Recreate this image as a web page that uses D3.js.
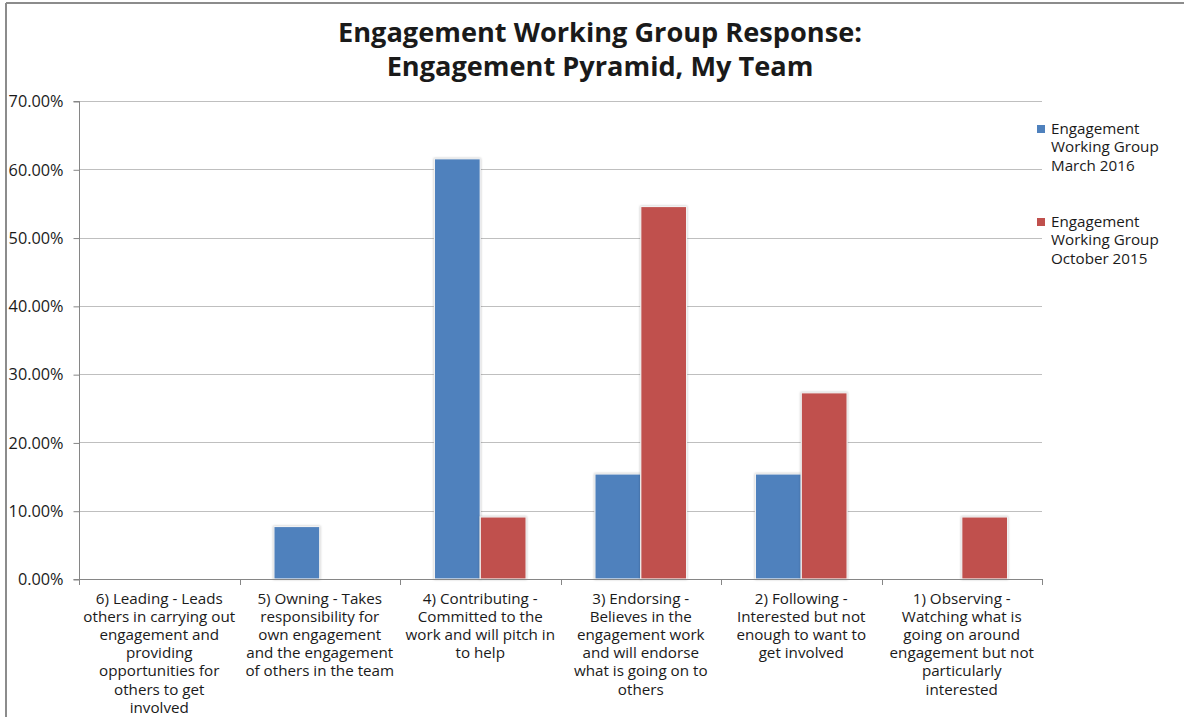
<!DOCTYPE html>
<html><head><meta charset="utf-8">
<script src="https://cdn.jsdelivr.net/npm/d3@7"></script>
<style>
html,body{margin:0;padding:0;background:#fff;}
svg{display:block;}
text{font-family:"Open Sans",Lato,sans-serif;fill:#1a1a1a;}
</style></head>
<body>
<svg id="chart" width="1184" height="717"></svg>
<script>
const titleLines = ["Engagement Working Group Response:", "Engagement Pyramid, My Team"];
const categories = [
  "6) Leading - Leads others in carrying out engagement and providing opportunities for others to get involved",
  "5) Owning - Takes responsibility for own engagement and the engagement of others in the team",
  "4) Contributing - Committed to the work and will pitch in to help",
  "3) Endorsing - Believes in the engagement work and will endorse what is going on to others",
  "2) Following - Interested but not enough to want to get involved",
  "1) Observing - Watching what is going on around engagement but not particularly interested"
];
const categoryLines = [
  ["6) Leading - Leads", "others in carrying out", "engagement and", "providing", "opportunities for", "others to get", "involved"],
  ["5) Owning - Takes", "responsibility for", "own engagement", "and the engagement", "of others in the team"],
  ["4) Contributing -", "Committed to the", "work and will pitch in", "to help"],
  ["3) Endorsing -", "Believes in the", "engagement work", "and will endorse", "what is going on to", "others"],
  ["2) Following -", "Interested but not", "enough to want to", "get involved"],
  ["1) Observing -", "Watching what is", "going on around", "engagement but not", "particularly", "interested"]
];
const seriesNames = ["Engagement Working Group March 2016", "Engagement Working Group October 2015"];
const legendLines = [["Engagement", "Working Group", "March 2016"], ["Engagement", "Working Group", "October 2015"]];
const march2016 = [0, 0.0769, 0.6154, 0.1538, 0.1538, 0];
const october2015 = [0, 0, 0.0909, 0.5455, 0.2727, 0.0909];
const yTicks = [0, 0.1, 0.2, 0.3, 0.4, 0.5, 0.6, 0.7];
const colors = ["#4F81BD", "#C0504D"];

const svg = d3.select("#chart");

// font size fitting helpers (match reference text widths)
function fitSize(str, base, weight, target) {
  const t = svg.append("text").attr("font-size", base).attr("font-weight", weight).text(str);
  const w = t.node().getComputedTextLength();
  t.remove();
  return base * target / w;
}
const labelSize = fitSize("others in carrying out", 14, "normal", 152);
const titleSize = fitSize(titleLines[0], 24, "bold", 524);
const tickSize = fitSize("70.00%", 14, "normal", 55);

// outer chart border
svg.append("line").attr("x1", 6).attr("x2", 1184).attr("y1", 3).attr("y2", 3).attr("stroke", "#8c8c8c").attr("stroke-width", 2);
svg.append("line").attr("x1", 6).attr("x2", 6).attr("y1", 3).attr("y2", 717).attr("stroke", "#8c8c8c").attr("stroke-width", 2);

const plot = {left: 79, right: 1042, top: 101, bottom: 579};
const x0 = d3.scaleBand().domain(d3.range(categories.length)).range([plot.left, plot.right]).paddingInner(0).paddingOuter(0);
const barW = x0.bandwidth() / 3.5;
const x1 = d3.scaleBand().domain([0, 1]).range([0.75 * barW, 2.75 * barW]).padding(0);
const y = d3.scaleLinear().domain([0, 0.7]).range([plot.bottom, plot.top]);

// gridlines
svg.append("g").selectAll("line").data(yTicks.slice(1)).join("line")
  .attr("x1", plot.left).attr("x2", plot.right)
  .attr("y1", d => Math.round(y(d)) + 0.5).attr("y2", d => Math.round(y(d)) + 0.5)
  .attr("stroke", "#bfbfbf").attr("stroke-width", 1);

// y axis
const yAxis = d3.axisLeft(y).tickValues(yTicks).tickFormat(d => (d * 100).toFixed(2) + "%").tickSize(6).tickPadding(10);
const gy = svg.append("g").attr("transform", `translate(${plot.left + 0.5},0.5)`).call(yAxis);
gy.select(".domain").attr("stroke", "#868686").attr("d", `M-6,${Math.round(y(0.7))}H0V${Math.round(y(0))}H-6`);
gy.selectAll(".tick line").attr("stroke", "#868686");
gy.selectAll(".tick text").attr("font-size", tickSize).attr("fill", "#1a1a1a").style("font-family", "'Open Sans', Lato, sans-serif");

// bars
const series = [march2016, october2015];
const gb = svg.append("g");
series.forEach((vals, si) => {
  gb.selectAll(null).data(vals.map((v, i) => ({v, i}))).join("rect")
    .filter(d => d.v > 0)
    .attr("x", d => x0(d.i) + x1(si))
    .attr("y", d => y(d.v))
    .attr("width", x1.bandwidth())
    .attr("height", d => y(0) - y(d.v))
    .attr("fill", colors[si])
    .attr("stroke", "#f2f2f2").attr("stroke-width", 1.2)
    .style("filter", "drop-shadow(0px 0px 1.2px rgba(0,0,0,0.25))");
});

// x axis
const xAxisG = svg.append("g");
xAxisG.append("line").attr("x1", plot.left).attr("x2", plot.right).attr("y1", y(0) + 0.5).attr("y2", y(0) + 0.5).attr("stroke", "#868686");
const xTickPos = d3.range(categories.length + 1).map(i => i < categories.length ? x0(i) : plot.right);
xAxisG.selectAll("line.tk").data(xTickPos).join("line").attr("class", "tk")
  .attr("x1", d => Math.round(d) + 0.5).attr("x2", d => Math.round(d) + 0.5)
  .attr("y1", y(0)).attr("y2", y(0) + 6).attr("stroke", "#868686");

// category labels
categoryLines.forEach((lines, i) => {
  const cx = x0(i) + x0.bandwidth() / 2;
  const t = svg.append("text").attr("text-anchor", "middle").attr("font-size", labelSize)
    .attr("x", cx).attr("y", 604);
  lines.forEach((ln, k) => t.append("tspan").attr("x", cx).attr("dy", k === 0 ? 0 : 18.1).text(ln));
});

// title
titleLines.forEach((ln, k) => {
  svg.append("text").attr("x", 600).attr("y", 42 + k * 34).attr("text-anchor", "middle")
    .attr("font-size", titleSize).attr("font-weight", "bold").attr("fill", "#000").text(ln);
});

// legend
const legendY = [125, 218];
legendLines.forEach((lines, si) => {
  svg.append("rect").attr("x", 1037).attr("y", legendY[si]).attr("width", 8).attr("height", 8).attr("fill", colors[si]);
  const t = svg.append("text").attr("font-size", labelSize).attr("x", 1051).attr("y", legendY[si] + 9);
  lines.forEach((ln, k) => t.append("tspan").attr("x", 1051).attr("dy", k === 0 ? 0 : 18.3).text(ln));
});
</script>
</body></html>
